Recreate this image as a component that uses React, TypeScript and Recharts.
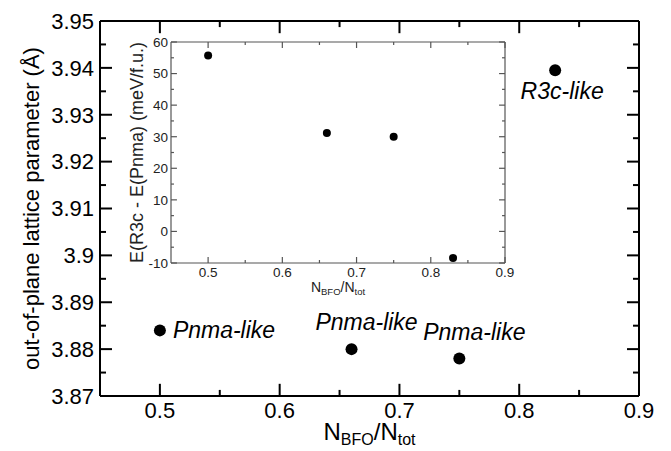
import React from "react";
import { ScatterChart, Scatter, XAxis, YAxis, Label, ReferenceLine } from "recharts";

// BFO fraction of each supercell
const fractions = [0.5, 0.66, 0.75, 0.83];
// main panel: out-of-plane lattice parameter (Å)
const latticeParam = [3.884, 3.88, 3.878, 3.9395];
const phaseLabels = ["Pnma-like", "Pnma-like", "Pnma-like", "R3c-like"];
const labelSide = ["right", "top", "top", "bottom"];
// inset: E(R3c) - E(Pnma) in meV/f.u.
const energyDiff = [55.7, 31.2, 30.0, -8.4];

const xMajor = [0.5, 0.6, 0.7, 0.8, 0.9];
const xMinor = [0.55, 0.65, 0.75, 0.85];
const mainYMajor = [3.87, 3.88, 3.89, 3.9, 3.91, 3.92, 3.93, 3.94, 3.95];
const mainYMinor = [3.875, 3.885, 3.895, 3.905, 3.915, 3.925, 3.935, 3.945];
const insetYMajor = [-10, 0, 10, 20, 30, 40, 50, 60];
const insetYMinor = [-5, 5, 15, 25, 35, 45, 55];

const mainData = fractions.map((x, i) => ({
  x,
  y: latticeParam[i],
  label: phaseLabels[i],
  side: labelSide[i],
}));
const insetData = fractions.map((x, i) => ({ x, y: energyDiff[i] }));

const FONT = "'Liberation Sans', Arial, Helvetica, sans-serif";

function PointWithLabel(props: any) {
  const { cx, cy, payload } = props;
  let tx = cx;
  let ty = cy;
  let anchor: "start" | "middle" = "middle";
  if (payload.side === "right") {
    tx = cx + 13;
    ty = cy + 8;
    anchor = "start";
  } else if (payload.side === "top") {
    tx = cx + 15;
    ty = cy - 19;
  } else {
    tx = cx + 7;
    ty = cy + 29;
  }
  return (
    <g>
      <circle cx={cx} cy={cy} r={6} fill="#000" />
      <text x={tx} y={ty} textAnchor={anchor} fontSize={23} fontStyle="italic" fontFamily={FONT} fill="#000">
        {payload.label}
      </text>
    </g>
  );
}

function SmallDot(props: any) {
  const { cx, cy } = props;
  return <circle cx={cx} cy={cy} r={4} fill="#000" />;
}

function MainXLabel(props: any) {
  const { viewBox } = props;
  const cx = viewBox.x + viewBox.width / 2;
  const y = viewBox.y + 44;
  return (
    <text x={cx} y={y} textAnchor="middle" fontSize={24} fontFamily={FONT} fill="#000">
      N<tspan fontSize={16} dy={5}>BFO</tspan>
      <tspan dy={-5}>/N</tspan>
      <tspan fontSize={16} dy={5}>tot</tspan>
    </text>
  );
}

function MainYLabel(props: any) {
  const { viewBox } = props;
  const cx = 31;
  const cy = viewBox.y + viewBox.height / 2;
  return (
    <text x={cx} y={cy} transform={`rotate(-90 ${cx} ${cy})`} textAnchor="middle" dominantBaseline="central" fontSize={22} fontFamily={FONT} fill="#000">
      out-of-plane lattice parameter (Å)
    </text>
  );
}

function InsetXLabel(props: any) {
  const { viewBox } = props;
  const cx = viewBox.x + viewBox.width / 2;
  const y = viewBox.y + 29;
  return (
    <text x={cx} y={y} textAnchor="middle" fontSize={14} fontFamily={FONT} fill="#222">
      N<tspan fontSize={9.5} dy={3}>BFO</tspan>
      <tspan dy={-3}>/N</tspan>
      <tspan fontSize={9.5} dy={3}>tot</tspan>
    </text>
  );
}

function InsetYLabel(props: any) {
  const { viewBox } = props;
  const cx = 137;
  const cy = viewBox.y + viewBox.height / 2;
  return (
    <text x={cx} y={cy} transform={`rotate(-90 ${cx} ${cy})`} textAnchor="middle" dominantBaseline="central" fontSize={18} fontFamily={FONT} fill="#222">
      E(R3c - E(Pnma) (meV/f.u.)
    </text>
  );
}

// inward tick marks on all four sides of a frame, drawn as short reference segments
function frameTicks(
  key: string,
  xd: number[],
  yd: number[],
  xTicks: number[][],
  yTicks: number[][],
  xLen: number[],
  yLen: number[],
  stroke: string,
  sw: number
) {
  const out: any[] = [];
  xTicks.forEach((list, k) =>
    list.forEach((v) => {
      out.push(
        <ReferenceLine key={`${key}b${v}`} segment={[{ x: v, y: yd[0] }, { x: v, y: yd[0] + yLen[k] }]} stroke={stroke} strokeWidth={sw} ifOverflow="visible" />,
        <ReferenceLine key={`${key}t${v}`} segment={[{ x: v, y: yd[1] }, { x: v, y: yd[1] - yLen[k] }]} stroke={stroke} strokeWidth={sw} ifOverflow="visible" />
      );
    })
  );
  yTicks.forEach((list, k) =>
    list.forEach((v) => {
      out.push(
        <ReferenceLine key={`${key}l${v}`} segment={[{ x: xd[0], y: v }, { x: xd[0] + xLen[k], y: v }]} stroke={stroke} strokeWidth={sw} ifOverflow="visible" />,
        <ReferenceLine key={`${key}r${v}`} segment={[{ x: xd[1], y: v }, { x: xd[1] - xLen[k], y: v }]} stroke={stroke} strokeWidth={sw} ifOverflow="visible" />
      );
    })
  );
  out.push(
    <ReferenceLine key={`${key}top`} y={yd[1]} stroke={stroke} strokeWidth={sw} ifOverflow="visible" />,
    <ReferenceLine key={`${key}right`} x={xd[1]} stroke={stroke} strokeWidth={sw} ifOverflow="visible" />
  );
  return out;
}

export default function App() {
  const mainLine = { stroke: "#000", strokeWidth: 2 };
  const insetLine = { stroke: "#555", strokeWidth: 1.2 };
  const mx = [0.45, 0.9];
  const my = [3.87, 3.95];
  const iy = [-10, 60];

  return (
    <div style={{ position: "absolute", left: 0, top: 0, width: 671, height: 451, background: "#fff" }}>
      <div style={{ position: "absolute", left: 0, top: 0 }}>
        <ScatterChart width={671} height={451} margin={{ top: 21, right: 32, bottom: 0, left: 0 }}>
          <XAxis type="number" dataKey="x" domain={mx} ticks={xMajor} interval={0} height={55}
            tickSize={6} tickMargin={0} tickLine={false} axisLine={mainLine}
            tick={{ fontSize: 22, fill: "#000", fontFamily: FONT }}>
            <Label content={MainXLabel} />
          </XAxis>
          <YAxis type="number" dataKey="y" domain={my} ticks={mainYMajor} interval={0} width={100}
            tickSize={6} tickMargin={0} tickLine={false} axisLine={mainLine}
            tick={{ fontSize: 22, fill: "#000", fontFamily: FONT }}>
            <Label content={MainYLabel} />
          </YAxis>
          {frameTicks("m", mx, my, [xMajor, xMinor], [mainYMajor, mainYMinor], [0.01, 0.005], [0.0026, 0.0013], "#000", 2)}
          <Scatter data={mainData} shape={PointWithLabel} isAnimationActive={false} />
        </ScatterChart>
      </div>
      <div style={{ position: "absolute", left: 0, top: 0 }}>
        <ScatterChart width={520} height={300} margin={{ top: 42, right: 15, bottom: 0, left: 0 }}>
          <XAxis type="number" dataKey="x" domain={mx} ticks={xMajor} interval={0} height={37}
            tickSize={4} tickMargin={0} tickLine={false} axisLine={insetLine}
            tick={{ fontSize: 13.5, fill: "#222", fontFamily: FONT }}>
            <Label content={InsetXLabel} />
          </XAxis>
          <YAxis type="number" dataKey="y" domain={iy} ticks={insetYMajor} interval={0} width={171}
            tickSize={3} tickMargin={0} tickLine={false} axisLine={insetLine}
            tick={{ fontSize: 13.5, fill: "#222", fontFamily: FONT }}>
            <Label content={InsetYLabel} />
          </YAxis>
          {frameTicks("i", mx, iy, [xMajor, xMinor], [insetYMajor, insetYMinor], [0.008, 0.004], [1.9, 0.95], "#555", 1.2)}
          <Scatter data={insetData} shape={SmallDot} isAnimationActive={false} />
        </ScatterChart>
      </div>
    </div>
  );
}
